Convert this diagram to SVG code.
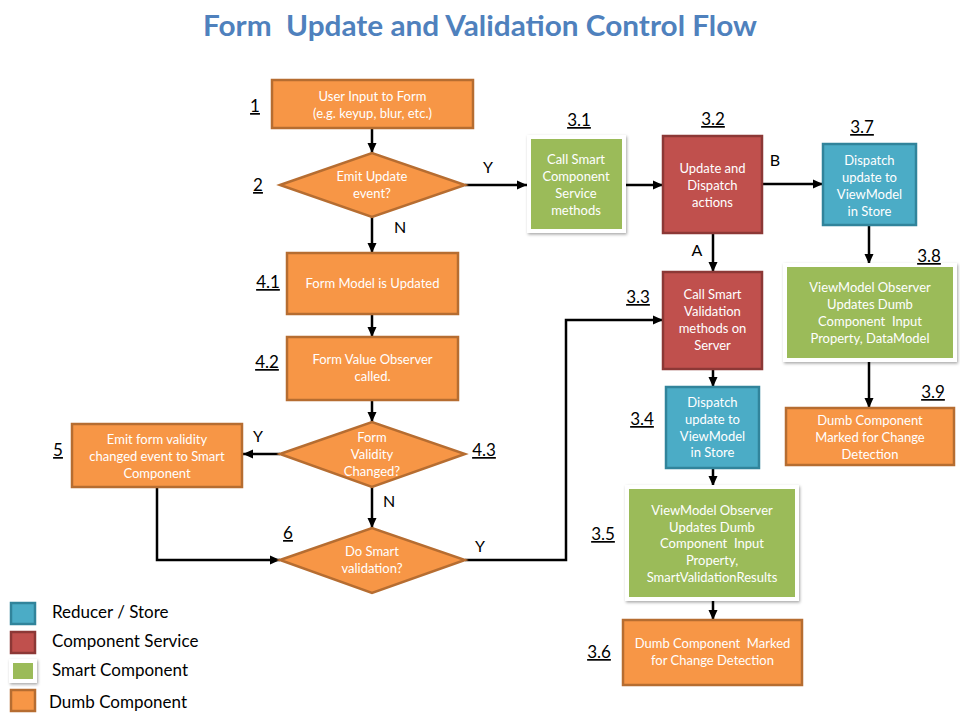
<svg xmlns="http://www.w3.org/2000/svg" width="960" height="720" viewBox="0 0 960 720">
<defs>
<marker id="ah" markerWidth="10" markerHeight="10" refX="10" refY="5" orient="auto" markerUnits="userSpaceOnUse">
<path d="M0,0.5 L10,5 L0,9.5 Z" fill="#000"/>
</marker>
<filter id="sh" x="-10%" y="-10%" width="125%" height="125%">
<feDropShadow dx="1" dy="1.5" stdDeviation="1.5" flood-color="#000" flood-opacity="0.35"/>
</filter>
<style>
text{white-space:pre}
.o{fill:#F79646;stroke:#B66D31;stroke-width:2.5}
.r{fill:#C0504D;stroke:#8C3836;stroke-width:2.5}
.b{fill:#4BACC6;stroke:#31849B;stroke-width:2.5}
.gw{fill:#fff;filter:url(#sh)}
.g{fill:#9BBB59}
.t{font-family:Lato,"Open Sans","Liberation Sans",sans-serif;font-size:13px;fill:#fff;text-anchor:middle}
.n{font-family:Lato,"Open Sans","Liberation Sans",sans-serif;font-size:17px;fill:#000;text-anchor:middle;text-decoration:underline}
.l{font-family:Lato,"Open Sans","Liberation Sans",sans-serif;font-size:16px;fill:#000;text-anchor:middle}
.lg{font-family:Lato,"Open Sans","Liberation Sans",sans-serif;font-size:17px;fill:#000}
.c{fill:none;stroke:#000;stroke-width:2.5}
</style>
</defs>
<rect width="960" height="720" fill="#fff"/>
<text x="480" y="36" font-family="Lato,'Open Sans','Liberation Sans',sans-serif" font-weight="bold" font-size="28" fill="#4F81BD" text-anchor="middle" textLength="554" lengthAdjust="spacingAndGlyphs">Form&#160; Update and Validation Control Flow</text>
<g id="connectors">
<line class="c" x1="372" y1="129" x2="372" y2="153" marker-end="url(#ah)"/>
<line class="c" x1="372" y1="217" x2="372" y2="253" marker-end="url(#ah)"/>
<line class="c" x1="465" y1="185" x2="527" y2="185" marker-end="url(#ah)"/>
<line class="c" x1="626" y1="185" x2="663" y2="185" marker-end="url(#ah)"/>
<line class="c" x1="762" y1="184" x2="823" y2="184" marker-end="url(#ah)"/>
<line class="c" x1="869" y1="225" x2="869" y2="264" marker-end="url(#ah)"/>
<line class="c" x1="869" y1="362" x2="869" y2="408" marker-end="url(#ah)"/>
<line class="c" x1="713" y1="233" x2="713" y2="272" marker-end="url(#ah)"/>
<line class="c" x1="713" y1="369" x2="713" y2="387" marker-end="url(#ah)"/>
<line class="c" x1="713" y1="468" x2="713" y2="486" marker-end="url(#ah)"/>
<line class="c" x1="713" y1="601" x2="713" y2="620" marker-end="url(#ah)"/>
<line class="c" x1="372" y1="314" x2="372" y2="337" marker-end="url(#ah)"/>
<line class="c" x1="372" y1="400" x2="372" y2="422" marker-end="url(#ah)"/>
<line class="c" x1="280" y1="454" x2="243" y2="454" marker-end="url(#ah)"/>
<line class="c" x1="372" y1="487" x2="372" y2="528" marker-end="url(#ah)"/>
<polyline class="c" points="157,487 157,560 280,560" marker-end="url(#ah)"/>
<polyline class="c" points="465,560 566,560 566,320 663,320" marker-end="url(#ah)"/>
<text class="l" x="488" y="173">Y</text>
<text class="l" x="400" y="233">N</text>
<text class="l" x="775" y="166">B</text>
<text class="l" x="697" y="256">A</text>
<text class="l" x="258" y="442">Y</text>
<text class="l" x="389" y="507">N</text>
<text class="l" x="480" y="552">Y</text>
</g>
<g id="n1">
<rect class="o" x="272" y="80" width="201" height="48"/>
<text class="t" x="372.5" y="101">User Input to Form</text>
<text class="t" x="372.5" y="118">(e.g. keyup, blur, etc.)</text>
<text class="n" x="255" y="112">1</text>
</g>
<g id="n2">
<polygon class="o" points="280,185 372,153 465,185 372,217"/>
<text class="t" x="372" y="181">Emit Update</text>
<text class="t" x="372" y="198">event?</text>
<text class="n" x="258" y="191">2</text>
</g>
<g id="n3_1">
<rect class="gw" x="527" y="135" width="99" height="98"/>
<rect class="g" x="531" y="139" width="91" height="90"/>
<text class="t" x="576" y="164">Call Smart</text>
<text class="t" x="576" y="181">Component</text>
<text class="t" x="576" y="198">Service</text>
<text class="t" x="576" y="215">methods</text>
<text class="n" x="579" y="126">3.1</text>
</g>
<g id="n3_2">
<rect class="r" x="663" y="136" width="99" height="97"/>
<text class="t" x="712.5" y="173">Update and</text>
<text class="t" x="712.5" y="190">Dispatch</text>
<text class="t" x="712.5" y="207">actions</text>
<text class="n" x="713" y="125">3.2</text>
</g>
<g id="n3_7">
<rect class="b" x="823" y="144" width="93" height="81"/>
<text class="t" x="869.5" y="165">Dispatch</text>
<text class="t" x="869.5" y="182">update to</text>
<text class="t" x="869.5" y="199">ViewModel</text>
<text class="t" x="869.5" y="216">in Store</text>
<text class="n" x="862" y="133">3.7</text>
</g>
<g id="n3_8">
<rect class="gw" x="783" y="263" width="174" height="99"/>
<rect class="g" x="787" y="267" width="166" height="91"/>
<text class="t" x="870" y="292">ViewModel Observer</text>
<text class="t" x="870" y="309">Updates Dumb</text>
<text class="t" x="870" y="326">Component&#160; Input</text>
<text class="t" x="870" y="343">Property, DataModel</text>
<text class="n" x="929" y="262">3.8</text>
</g>
<g id="n3_9">
<rect class="o" x="786" y="408" width="168" height="57"/>
<text class="t" x="870" y="425">Dumb Component</text>
<text class="t" x="870" y="442">Marked for Change</text>
<text class="t" x="870" y="459">Detection</text>
<text class="n" x="933" y="398">3.9</text>
</g>
<g id="n3_3">
<rect class="r" x="663" y="272" width="99" height="97"/>
<text class="t" x="712.5" y="299">Call Smart</text>
<text class="t" x="712.5" y="316">Validation</text>
<text class="t" x="712.5" y="333">methods on</text>
<text class="t" x="712.5" y="350">Server</text>
<text class="n" x="638" y="303">3.3</text>
</g>
<g id="n3_4">
<rect class="b" x="666" y="387" width="93" height="81"/>
<text class="t" x="712.5" y="407">Dispatch</text>
<text class="t" x="712.5" y="424">update to</text>
<text class="t" x="712.5" y="441">ViewModel</text>
<text class="t" x="712.5" y="457">in Store</text>
<text class="n" x="642" y="425">3.4</text>
</g>
<g id="n3_5">
<rect class="gw" x="625" y="485" width="174" height="116"/>
<rect class="g" x="629" y="489" width="166" height="108"/>
<text class="t" x="712" y="515">ViewModel Observer</text>
<text class="t" x="712" y="532">Updates Dumb</text>
<text class="t" x="712" y="548">Component&#160; Input</text>
<text class="t" x="712" y="565">Property,</text>
<text class="t" x="712" y="582">SmartValidationResults</text>
<text class="n" x="603" y="540">3.5</text>
</g>
<g id="n3_6">
<rect class="o" x="623" y="620" width="179" height="65"/>
<text class="t" x="712.5" y="648">Dumb Component&#160; Marked</text>
<text class="t" x="712.5" y="665">for Change Detection</text>
<text class="n" x="599" y="658">3.6</text>
</g>
<g id="n4_1">
<rect class="o" x="287" y="253" width="171" height="61"/>
<text class="t" x="372.5" y="288">Form Model is Updated</text>
<text class="n" x="268" y="288">4.1</text>
</g>
<g id="n4_2">
<rect class="o" x="287" y="337" width="171" height="63"/>
<text class="t" x="372.5" y="364">Form Value Observer</text>
<text class="t" x="372.5" y="381">called.</text>
<text class="n" x="267" y="368">4.2</text>
</g>
<g id="n4_3">
<polygon class="o" points="280,454 372,422 465,454 372,487"/>
<text class="t" x="372" y="442">Form</text>
<text class="t" x="372" y="459">Validity</text>
<text class="t" x="372" y="476">Changed?</text>
<text class="n" x="484" y="456">4.3</text>
</g>
<g id="n5">
<rect class="o" x="72" y="424" width="170" height="63"/>
<text class="t" x="157" y="444">Emit form validity</text>
<text class="t" x="157" y="461">changed event to Smart</text>
<text class="t" x="157" y="478">Component</text>
<text class="n" x="58" y="456">5</text>
</g>
<g id="n6">
<polygon class="o" points="280,560 372,528 465,560 372,593"/>
<text class="t" x="372" y="556">Do Smart</text>
<text class="t" x="372" y="573">validation?</text>
<text class="n" x="288" y="539">6</text>
</g>
<g id="legend">
<rect class="b" x="11" y="603" width="24" height="21"/>
<text class="lg" x="52" y="618">Reducer / Store</text>
<rect class="r" x="11" y="632" width="24" height="21"/>
<text class="lg" x="52" y="647">Component Service</text>
<rect class="gw" x="9" y="659" width="28" height="24"/>
<rect class="g" x="13" y="663" width="20" height="16"/>
<text class="lg" x="52" y="676">Smart Component</text>
<rect class="o" x="11" y="690" width="24" height="21"/>
<text class="lg" x="49" y="708">Dumb Component</text>
</g>
</svg>
